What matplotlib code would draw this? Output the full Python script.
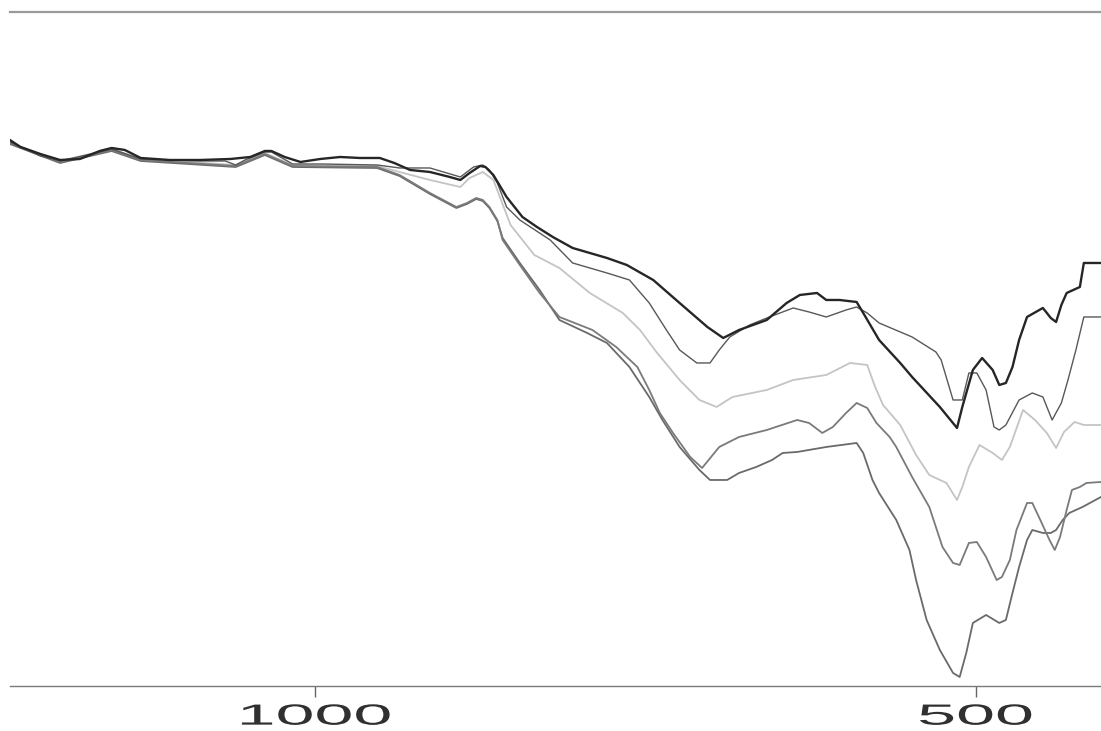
import matplotlib
matplotlib.use("Agg")
from matplotlib import pyplot as plt
from matplotlib.patheffects import AbstractPathEffect
from matplotlib.transforms import Affine2D

# wavenumber (cm-1) and transmittance for each spectrum
wn_a = [1231, 1223, 1208, 1193, 1178, 1163, 1154, 1144, 1132, 1110, 1087, 1064, 1049, 1038,
        1033, 1023, 1011, 996, 981, 966, 951, 940, 928, 913, 898, 890, 883, 875, 871, 865,
        855, 843, 832, 820, 805, 779, 764, 744, 724, 703, 691, 679, 658, 643, 633, 620,
        613, 603, 590, 585, 573, 557, 548, 527, 514, 510, 502, 495, 487, 482, 477, 472,
        467, 461, 449, 443, 439, 435, 431, 421, 418, 405]
t_a = [54.6, 53.9, 53.2, 52.6, 52.7, 53.5, 53.8, 53.6, 52.8, 52.6, 52.6, 52.7, 52.9, 53.5,
       53.5, 52.9, 52.4, 52.7, 52.9, 52.8, 52.8, 52.3, 51.6, 51.4, 50.9, 50.6, 51.3, 52.0,
       51.9, 51.1, 48.9, 46.9, 45.9, 44.9, 43.8, 42.8, 42.1, 40.6, 38.3, 35.9, 34.8, 35.6,
       36.6, 38.3, 39.1, 39.3, 38.6, 38.6, 38.4, 37.3, 34.6, 32.3, 30.9, 27.9, 25.8, 27.9,
       31.6, 32.8, 31.6, 30.1, 30.3, 31.9, 34.6, 36.9, 37.8, 36.8, 36.4, 38.1, 39.3, 39.9,
       42.3, 42.3]

wn_b = [1231, 1208, 1193, 1163, 1154, 1132, 1087, 1068, 1060, 1053, 1038, 1033, 1017, 996,
        953, 936, 913, 890, 880, 873, 868, 862, 855, 845, 822, 805, 779, 762, 747, 734,
        724, 711, 701, 694, 686, 671, 656, 638, 626, 613, 598, 590, 582, 573, 548, 530,
        526, 517, 510, 505, 499, 492, 486, 482, 477, 467, 457, 449, 442, 435, 430, 424,
        418, 405]
t_b = [54.4, 53.0, 52.5, 53.4, 53.7, 52.7, 52.5, 52.5, 52.1, 52.6, 53.4, 53.4, 52.2, 52.2,
       52.1, 51.8, 51.8, 50.9, 51.9, 52.1, 51.6, 50.3, 47.9, 46.6, 44.6, 42.3, 41.3, 40.6,
       38.3, 35.6, 33.6, 32.3, 32.3, 33.6, 34.9, 36.1, 36.9, 37.8, 37.4, 36.9, 37.6, 37.9,
       37.3, 36.3, 34.9, 33.4, 32.6, 28.6, 28.6, 31.3, 31.3, 29.6, 25.9, 25.6, 26.1, 28.6,
       29.3, 28.9, 26.6, 28.3, 30.6, 33.6, 36.9, 36.9]

wn_c = [1231, 1193, 1154, 1132, 1060, 1038, 1017, 953, 936, 913, 890, 883, 873, 865, 852,
        834, 815, 792, 767, 754, 741, 724, 709, 696, 684, 658, 638, 613, 595, 582, 576,
        570, 557, 545, 535, 522, 514, 510, 505, 497, 487, 480, 474, 464, 455, 446, 439,
        433, 425, 418, 405]
t_c = [54.3, 52.5, 53.7, 52.7, 52.1, 53.3, 52.1, 52.0, 51.4, 50.6, 49.9, 50.8, 51.4, 50.6,
       46.1, 43.1, 41.8, 39.3, 37.3, 35.6, 33.3, 30.6, 28.6, 27.9, 28.9, 29.6, 30.6, 31.1,
       32.3, 32.1, 29.9, 28.1, 26.1, 23.1, 21.1, 20.3, 18.6, 19.9, 21.9, 24.1, 23.3, 22.6,
       23.9, 27.6, 26.6, 25.3, 23.8, 25.4, 26.4, 26.1, 26.1]

wn_d = [1231, 1193, 1154, 1132, 1060, 1038, 1017, 953, 936, 913, 893, 885, 878, 873, 868,
        862, 858, 845, 830, 815, 790, 772, 756, 747, 739, 729, 716, 707, 694, 679, 658,
        635, 626, 616, 608, 598, 590, 582, 575, 565, 560, 548, 535, 525, 517, 512, 505,
        499, 492, 484, 480, 474, 469, 461, 457, 452, 444, 440, 436, 431, 427, 421, 416,
        405]
t_d = [54.3, 52.4, 53.6, 52.6, 52.0, 53.2, 52.0, 51.9, 51.1, 49.3, 47.9, 48.3, 48.8, 48.6,
       47.9, 46.6, 44.6, 42.1, 39.3, 36.9, 35.6, 33.9, 31.9, 29.6, 27.3, 25.3, 22.9, 21.8,
       23.9, 24.9, 25.6, 26.6, 26.3, 25.3, 25.9, 27.3, 28.3, 27.8, 26.3, 24.9, 23.9, 20.9,
       17.9, 13.9, 12.3, 12.1, 14.3, 14.4, 12.9, 10.6, 10.9, 12.6, 15.6, 18.3, 18.3, 16.9,
       14.6, 13.6, 14.9, 17.6, 19.6, 19.9, 20.3, 20.4]

wn_e = [1231, 1193, 1154, 1132, 1060, 1038, 1017, 953, 936, 913, 893, 885, 878, 873, 868,
        862, 858, 845, 830, 815, 794, 779, 762, 747, 737, 724, 709, 701, 688, 679, 666,
        654, 646, 635, 613, 590, 585, 578, 573, 560, 550, 545, 537, 527, 517, 512, 507,
        502, 492, 482, 477, 472, 467, 461, 457, 449, 443, 439, 434, 429, 419, 405]
t_e = [54.2, 52.3, 53.5, 52.5, 51.9, 53.1, 51.9, 51.8, 51.0, 49.2, 47.8, 48.2, 48.7, 48.5,
       47.8, 46.5, 44.8, 42.3, 39.6, 36.6, 35.3, 34.3, 31.9, 28.9, 26.6, 23.9, 21.6, 20.6,
       20.6, 21.3, 21.9, 22.6, 23.3, 23.4, 23.9, 24.3, 23.3, 20.6, 19.3, 16.6, 13.6, 10.6,
       6.6, 3.6, 1.3, 0.9, 3.3, 6.3, 7.1, 6.3, 6.6, 9.3, 11.9, 14.6, 15.6, 15.3, 15.3,
       15.6, 16.6, 17.3, 17.9, 18.9]

tick_pos = [1000, 500]
tick_text = ["1000", "500"]


class Stretch(AbstractPathEffect):
    """Draw text paths widened horizontally about their centre."""

    def __init__(self, sx):
        super().__init__()
        self.sx = sx

    def draw_path(self, renderer, gc, tpath, affine, rgbFace=None):
        box = tpath.get_extents(affine)
        cx = (box.x0 + box.x1) / 2
        widen = Affine2D().translate(-cx, 0).scale(self.sx, 1).translate(cx, 0)
        renderer.draw_path(gc, tpath, affine + widen, rgbFace)


fig = plt.figure(figsize=(11.01, 7.31), dpi=100)
ax = fig.add_axes([0.009, 0.0616, 0.991, 0.922])

ax.plot(wn_c, t_c, color="#c4c4c4", lw=1.3)
ax.plot(wn_e, t_e, color="#6a6a6a", lw=1.3)
ax.plot(wn_d, t_d, color="#7a7a7a", lw=1.3)
ax.plot(wn_b, t_b, color="#585858", lw=1.0)
ax.plot(wn_a, t_a, color="#262626", lw=1.7)

ax.set_xlim(1231, 405)
ax.set_ylim(0, 67.4)

for side in ["left", "right"]:
    ax.spines[side].set_visible(False)
ax.spines["bottom"].set_color("#7a7a7a")
ax.spines["bottom"].set_linewidth(1.0)
ax.spines["top"].set_color("#9a9a9a")
ax.spines["top"].set_linewidth(1.6)

ax.set_yticks([])
ax.set_xticks(tick_pos)
ax.set_xticklabels(tick_text, fontsize=21, color="#303030", family="Liberation Sans")
ax.tick_params(axis="x", direction="out", length=8, width=1.0, color="#666666", pad=4)
plt.setp(ax.get_xticklabels(), path_effects=[Stretch(2.4)])

fig.savefig("out.png", dpi=100, facecolor="white")
